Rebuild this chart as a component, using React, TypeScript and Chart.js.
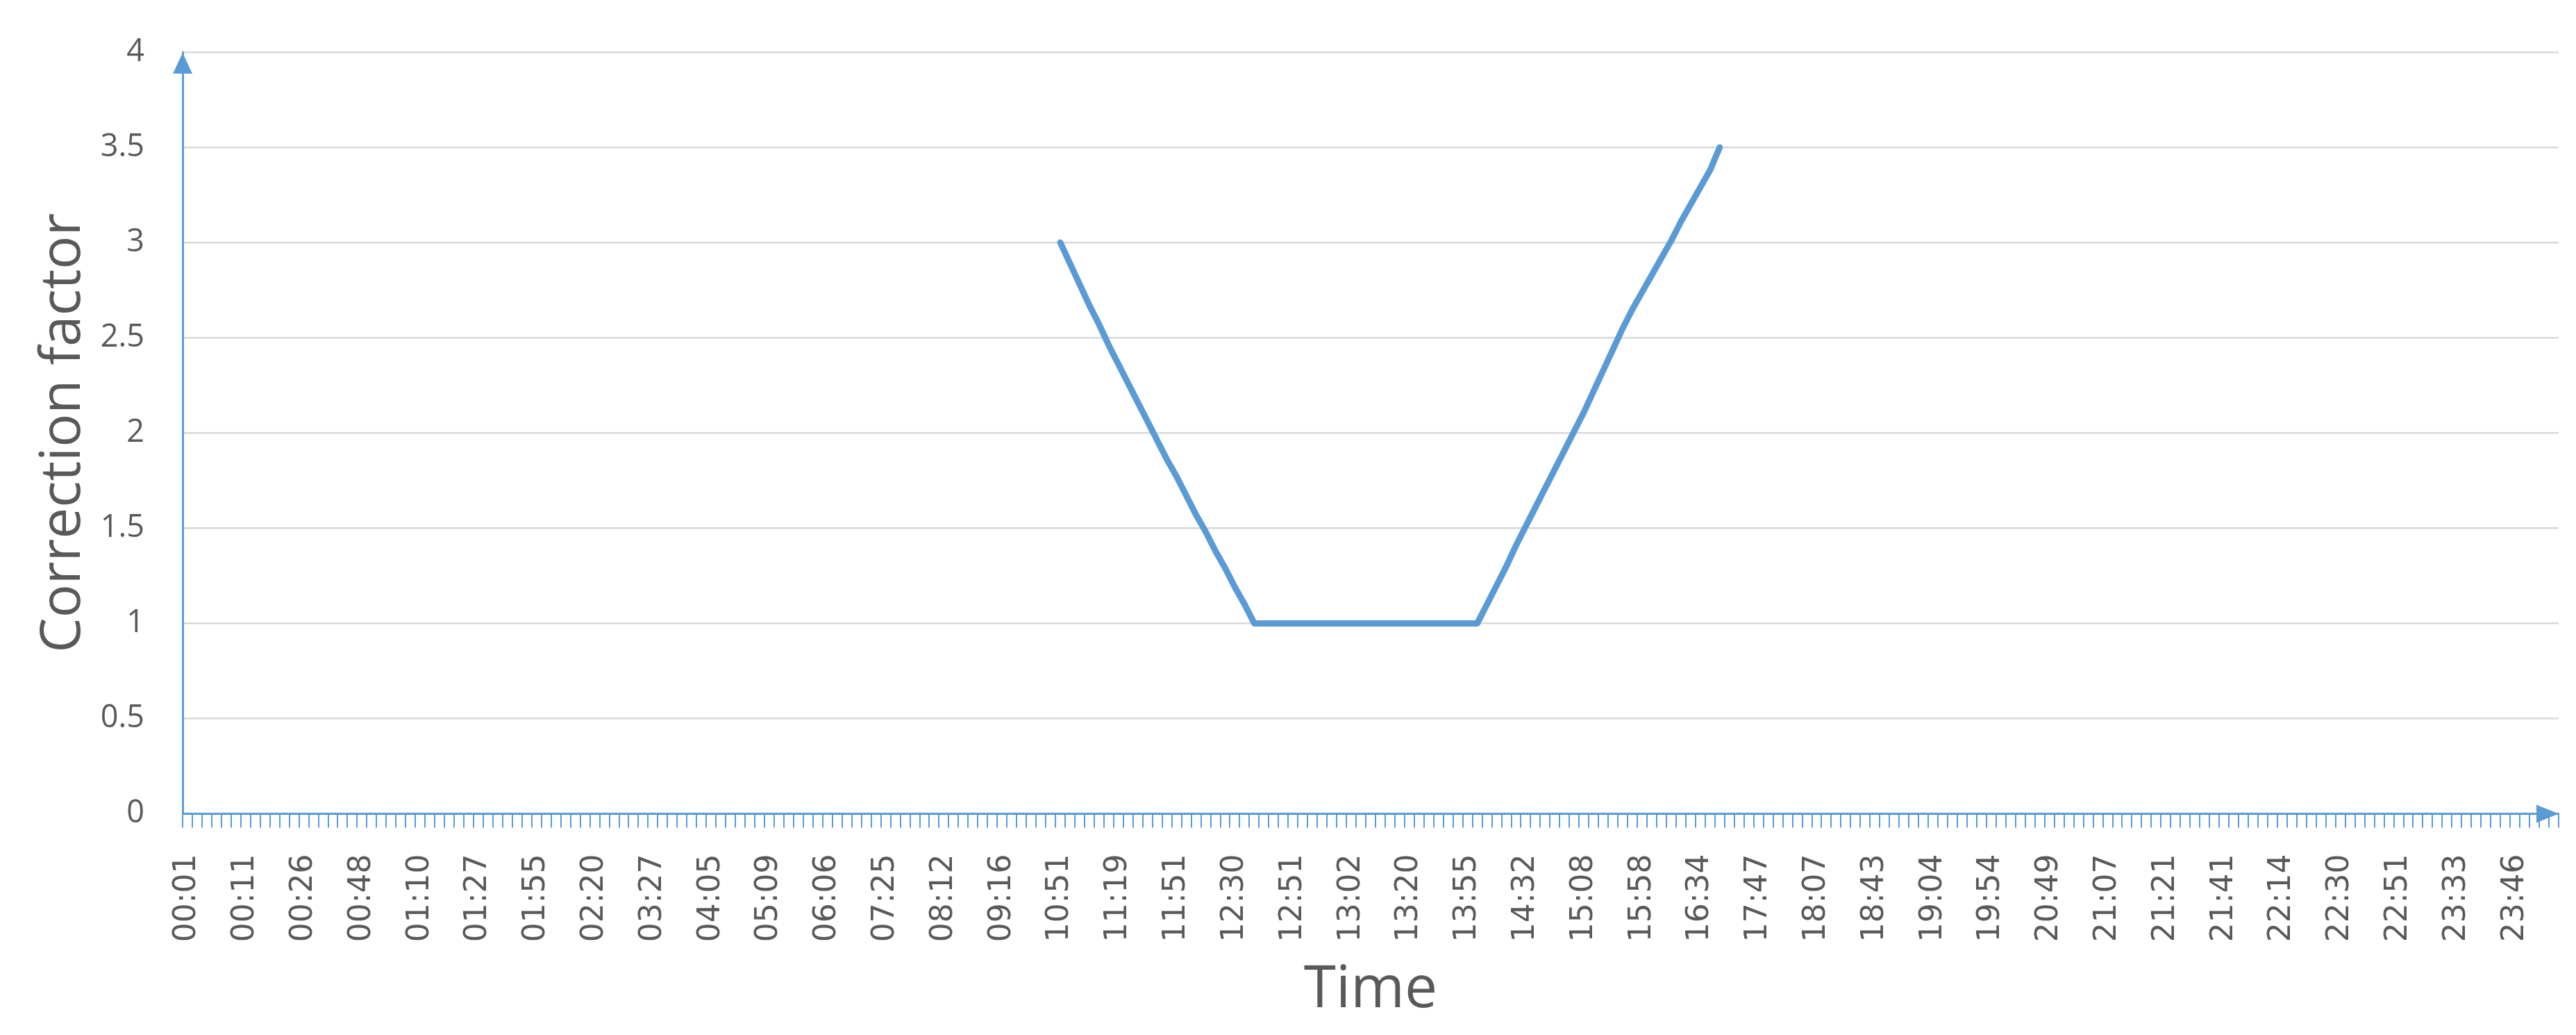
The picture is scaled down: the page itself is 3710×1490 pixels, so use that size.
import React, { useEffect, useRef } from "react";
import { Chart, registerables } from "chart.js";

Chart.register(...registerables);

// Visible time labels (one every LABEL_EVERY categories)
const tickLabels = [
  "00:01", "00:11", "00:26", "00:48", "01:10", "01:27", "01:55", "02:20", "03:27",
  "04:05", "05:09", "06:06", "07:25", "08:12", "09:16", "10:51", "11:19", "11:51",
  "12:30", "12:51", "13:02", "13:20", "13:55", "14:32", "15:08", "15:58", "16:34",
  "17:47", "18:07", "18:43", "19:04", "19:54", "20:49", "21:07", "21:21", "21:41",
  "22:14", "22:30", "22:51", "23:33", "23:46",
];
const LABEL_EVERY = 6;
const CATEGORY_COUNT = 245;

// Correction factor series, starting at category index seriesStartIndex (10:51)
const seriesStartIndex = 90;
const correctionFactor = [
  3.0, 2.89, 2.78, 2.67, 2.57, 2.46, 2.36, 2.26, 2.16, 2.06, 1.96,
  1.86, 1.77, 1.67, 1.57, 1.48, 1.38, 1.29, 1.19, 1.1, 1.0,
  1.0, 1.0, 1.0, 1.0, 1.0, 1.0, 1.0, 1.0, 1.0, 1.0, 1.0, 1.0,
  1.0, 1.0, 1.0, 1.0, 1.0, 1.0, 1.0, 1.0, 1.0, 1.0, 1.0,
  1.1, 1.2, 1.3, 1.41, 1.51, 1.61, 1.71, 1.81, 1.91, 2.01,
  2.11, 2.22, 2.33, 2.44, 2.55, 2.65, 2.74, 2.83, 2.92, 3.01,
  3.11, 3.2, 3.29, 3.38, 3.5,
];

const yMin = 0;
const yMax = 4;
const yStep = 0.5;

const BLUE = "#5B9BD5";
const TEXT = "#595959";
const GRID = "#D9D9D9";

const axisArrows = {
  id: "axisArrows",
  afterDraw(chart: any) {
    const { ctx, chartArea } = chart;
    const { left, right, top, bottom } = chartArea;
    ctx.save();
    ctx.fillStyle = BLUE;
    // y-axis arrow head
    ctx.beginPath();
    ctx.moveTo(left, top + 1);
    ctx.lineTo(left - 14, top + 31);
    ctx.lineTo(left + 14, top + 31);
    ctx.closePath();
    ctx.fill();
    // x-axis arrow head
    ctx.beginPath();
    ctx.moveTo(right, bottom);
    ctx.lineTo(right - 32, bottom - 13);
    ctx.lineTo(right - 32, bottom + 13);
    ctx.closePath();
    ctx.fill();
    ctx.restore();
  },
};

export default function App() {
  const canvasRef = useRef<HTMLCanvasElement | null>(null);

  useEffect(() => {
    document.body.style.margin = "0";
    document.body.style.overflow = "hidden";
    const canvas = canvasRef.current;
    if (!canvas) return;

    const labels: string[] = [];
    for (let i = 0; i < CATEGORY_COUNT; i++) {
      labels.push(i % LABEL_EVERY === 0 ? tickLabels[i / LABEL_EVERY] ?? "" : "");
    }
    const data: (number | null)[] = labels.map((_, i) => {
      const k = i - seriesStartIndex;
      return k >= 0 && k < correctionFactor.length ? correctionFactor[k] : null;
    });

    const chart = new Chart(canvas, {
      type: "line",
      data: {
        labels,
        datasets: [
          {
            label: "Correction factor",
            data,
            borderColor: BLUE,
            backgroundColor: BLUE,
            borderWidth: 9,
            pointRadius: 0,
            tension: 0,
            spanGaps: false,
            borderJoinStyle: "round",
            borderCapStyle: "round",
          },
        ],
      },
      options: {
        responsive: false,
        animation: false,
        devicePixelRatio: 1,
        layout: { padding: { top: 75, right: 25, left: 0, bottom: 0 } },
        plugins: {
          legend: { display: false },
          tooltip: { enabled: false },
          title: { display: false },
        },
        scales: {
          x: {
            type: "category",
            offset: true,
            grid: {
              display: true,
              drawOnChartArea: false,
              drawTicks: true,
              tickLength: 20,
              color: BLUE,
              lineWidth: 2,
              offset: true,
            },
            border: { display: true, color: BLUE, width: 3 },
            ticks: {
              autoSkip: false,
              maxRotation: 90,
              minRotation: 90,
              padding: 38,
              color: TEXT,
              font: { family: "DejaVu Sans", size: 44 },
            },
            title: {
              display: true,
              text: "Time",
              color: TEXT,
              font: { family: "Open Sans", size: 84 },
              padding: { top: 0, bottom: 14 },
            },
            afterFit: (s: any) => {
              s.height = 318.5;
              s.paddingLeft = 0;
              s.paddingRight = 0;
            },
          },
          y: {
            min: yMin,
            max: yMax,
            ticks: {
              stepSize: yStep,
              padding: 55,
              color: TEXT,
              font: { family: "Open Sans", size: 45 },
              callback: (v: any) => String(Number(v)),
            },
            grid: {
              color: GRID,
              lineWidth: 2.5,
              drawTicks: false,
            },
            border: { display: true, color: BLUE, width: 3 },
            title: {
              display: true,
              text: "Correction factor",
              color: TEXT,
              font: { family: "Open Sans", size: 80 },
              padding: { top: 44, bottom: 0 },
            },
            afterFit: (s: any) => {
              s.width = 263;
              s.paddingTop = 0;
              s.paddingBottom = 0;
            },
          },
        },
      },
      plugins: [axisArrows],
    });

    return () => {
      chart.destroy();
    };
  }, []);

  return (
    <div style={{ position: "fixed", left: 0, top: 0, width: 3710, height: 1490, background: "#fff" }}>
      <canvas ref={canvasRef} width={3710} height={1490} style={{ width: 3710, height: 1490, display: "block" }} />
    </div>
  );
}
